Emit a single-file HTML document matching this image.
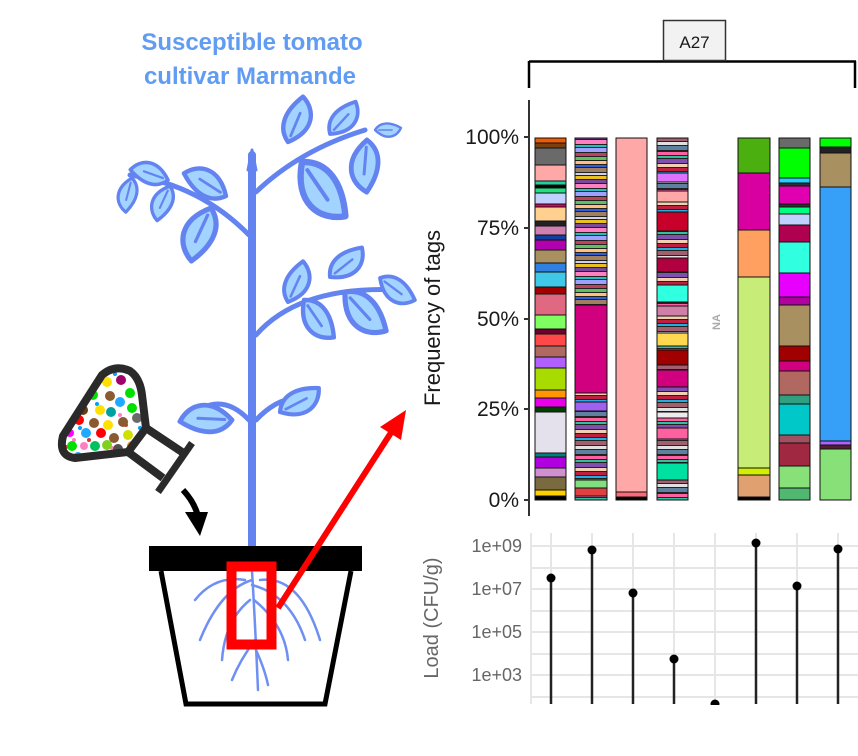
<!DOCTYPE html>
<html><head><meta charset="utf-8"><style>
html,body{margin:0;padding:0;background:#fff;}
svg{display:block;font-family:"Liberation Sans",sans-serif;}
</style></head><body>
<svg width="858" height="756" viewBox="0 0 858 756" xmlns="http://www.w3.org/2000/svg">
<defs>
<pattern id="stA" width="32" height="44" patternUnits="userSpaceOnUse">
<rect width="32" height="44" fill="#222"/>
<rect y="0" width="32" height="3" fill="#e8c020"/><rect y="4" width="32" height="3" fill="#7a4a9a"/><rect y="8" width="32" height="4" fill="#ff80c0"/><rect y="13" width="32" height="2" fill="#20c0c0"/><rect y="16" width="32" height="4" fill="#a0a0ff"/><rect y="21" width="32" height="3" fill="#c04060"/><rect y="25" width="32" height="3" fill="#60c060"/><rect y="29" width="32" height="3" fill="#ffc080"/><rect y="33" width="32" height="2" fill="#3060e0"/><rect y="36" width="32" height="4" fill="#a08060"/><rect y="41" width="32" height="2" fill="#d0d0f0"/>
</pattern>
<pattern id="stB" width="32" height="38" patternUnits="userSpaceOnUse">
<rect width="32" height="38" fill="#222"/>
<rect y="0" width="32" height="3" fill="#ff60a0"/><rect y="4" width="32" height="2" fill="#30c0a0"/><rect y="7" width="32" height="4" fill="#8050b0"/><rect y="12" width="32" height="3" fill="#f0d0b0"/><rect y="16" width="32" height="3" fill="#c02040"/><rect y="20" width="32" height="2" fill="#20b0e0"/><rect y="23" width="32" height="4" fill="#a06070"/><rect y="28" width="32" height="3" fill="#e0e0e0"/><rect y="32" width="32" height="4" fill="#6080a0"/>
</pattern>
<clipPath id="bulbc"><path d="M75,458 Q58,456 63,436 L102,375 Q115,364 130,371 Q140,378 142,395 L146,428 L128,452 Z"/></clipPath>
<g id="leaf"><path d="M0,0 C6,-15 22,-18 42,-11 C38,5 22,15 0,0 Z" fill="#a3d3ff" stroke="#6384f0" stroke-width="4" stroke-linejoin="round"/><path d="M6,-1 L28,-5" stroke="#6384f0" stroke-width="2.5" fill="none" stroke-linecap="round"/></g>
</defs>

<!-- Title -->
<text x="252" y="50" text-anchor="middle" font-size="24" font-weight="bold" fill="#619cf3">Susceptible tomato</text>
<text x="250" y="84" text-anchor="middle" font-size="24" font-weight="bold" fill="#619cf3">cultivar Marmande</text>

<!-- Plant -->
<g stroke="#6384f0" stroke-linecap="round" stroke-linejoin="round" fill="none">
<path d="M252,155 L252,565" stroke-width="8"/>
<path d="M252,150 L248,170 L256,170 Z" fill="#6384f0" stroke-width="3"/>
<path d="M249,235 Q200,185 130,175" stroke-width="5"/>
<path d="M256,192 Q300,150 365,130" stroke-width="5"/>
<path d="M256,335 Q300,285 400,290" stroke-width="5"/>
<path d="M249,420 Q230,400 210,405" stroke-width="5"/>
<path d="M256,420 Q275,400 295,398" stroke-width="5"/>
</g>
<use href="#leaf" transform="translate(132,178) rotate(115) scale(0.8)"/>
<use href="#leaf" transform="translate(168,180) rotate(-150) scale(0.9)"/>
<use href="#leaf" transform="translate(226,196) rotate(-137) scale(1.1)"/>
<use href="#leaf" transform="translate(170,186) rotate(125) scale(0.85)"/>
<use href="#leaf" transform="translate(211,208) rotate(125) scale(1.3)"/>
<use href="#leaf" transform="translate(288,142) rotate(-57) scale(1.1)"/>
<use href="#leaf" transform="translate(330,134) rotate(-37) scale(0.95)"/>
<use href="#leaf" transform="translate(375,130) rotate(10) scale(0.6)"/>
<use href="#leaf" transform="translate(367,140) rotate(105) scale(1.2)"/>
<use href="#leaf" transform="translate(302,162) rotate(66) scale(1.6)"/>
<use href="#leaf" transform="translate(288,302) rotate(-55) scale(1.0)"/>
<use href="#leaf" transform="translate(330,277) rotate(-28) scale(1.0)"/>
<use href="#leaf" transform="translate(380,278) rotate(47) scale(0.95)"/>
<use href="#leaf" transform="translate(345,292) rotate(58) scale(1.3)"/>
<use href="#leaf" transform="translate(304,300) rotate(66) scale(1.1)"/>
<use href="#leaf" transform="translate(232,420) rotate(193) scale(1.2)"/>
<use href="#leaf" transform="translate(280,412) rotate(-17) scale(1.05)"/>

<!-- Pot -->
<path d="M161,571 L186,704 L325,704 L351,571" fill="none" stroke="#000" stroke-width="5"/>
<rect x="149" y="546" width="213" height="25" fill="#000"/>
<g stroke="#6f8ff2" stroke-width="2.5" fill="none" stroke-linecap="round">
<path d="M252,571 Q255,620 258,690"/>
<path d="M252,580 Q220,590 200,640"/>
<path d="M252,585 Q290,595 305,640"/>
<path d="M250,600 Q225,620 222,660"/>
<path d="M254,600 Q285,625 288,660"/>
<path d="M255,640 Q240,660 232,680"/>
<path d="M256,650 Q265,670 268,685"/>
<path d="M245,580 Q215,575 195,600"/>
<path d="M260,580 Q300,575 320,640"/>
</g>
<rect x="231.5" y="566.5" width="40" height="78" fill="none" stroke="#f00" stroke-width="10"/>
<line x1="278" y1="608" x2="394" y2="428" stroke="#f00" stroke-width="6"/>
<path d="M406,410 L380,427 L401,440 Z" fill="#f00"/>

<!-- Bulb -->
<g clip-path="url(#bulbc)">
<rect x="55" y="360" width="100" height="100" fill="#fff"/>
<g fill="#e03030"><circle cx="100" cy="372" r="2"/><circle cx="126" cy="425" r="2"/><circle cx="89" cy="440" r="2"/><circle cx="66" cy="447" r="2"/><circle cx="116" cy="455" r="2"/></g>
<g fill="#00a0ff"><circle cx="115" cy="374" r="2"/><circle cx="97" cy="404" r="2"/><circle cx="140" cy="428" r="2"/><circle cx="80" cy="428" r="2"/></g>
<g fill="#ff80c0"><circle cx="128" cy="372" r="2"/><circle cx="120" cy="415" r="2"/><circle cx="74" cy="440" r="2"/><circle cx="112" cy="448" r="2"/></g>
<circle cx="107" cy="382" r="5" fill="#ffe000"/><circle cx="121" cy="380" r="5" fill="#a0006a"/>
<circle cx="93" cy="395" r="5" fill="#00e000"/><circle cx="110" cy="396" r="5" fill="#8a5a30"/><circle cx="130" cy="393" r="5" fill="#00e000"/>
<circle cx="120" cy="402" r="5" fill="#20aaff"/><circle cx="83" cy="410" r="5" fill="#6a3a10"/><circle cx="100" cy="410" r="5" fill="#ffe000"/><circle cx="111" cy="412" r="5" fill="#00a0a0"/><circle cx="132" cy="408" r="5" fill="#00e000"/>
<circle cx="79" cy="420" r="5" fill="#ff0000"/><circle cx="94" cy="423" r="5" fill="#8a5a30"/><circle cx="108" cy="425" r="5" fill="#ffe000"/><circle cx="123" cy="422" r="5" fill="#8a5a30"/><circle cx="137" cy="418" r="5" fill="#6a6a6a"/>
<circle cx="70" cy="433" r="4" fill="#ff00ff"/><circle cx="86" cy="433" r="5" fill="#20aaff"/><circle cx="101" cy="433" r="5" fill="#ff0000"/><circle cx="114" cy="438" r="5" fill="#8a5a30"/><circle cx="128" cy="435" r="5" fill="#d0e000"/>
<circle cx="72" cy="446" r="5" fill="#00e000"/><circle cx="84" cy="446" r="4" fill="#ff80c0"/><circle cx="95" cy="446" r="5" fill="#00c060"/><circle cx="107" cy="445" r="5" fill="#80d020"/><circle cx="118" cy="449" r="5" fill="#505050"/><circle cx="132" cy="446" r="5" fill="#ff8800"/>
<circle cx="78" cy="456" r="4" fill="#20aaff"/><circle cx="102" cy="456" r="4" fill="#ff80c0"/>
</g>
<path d="M75,458 Q58,456 63,436 L102,375 Q115,364 130,371 Q140,378 142,395 L146,428 L128,452 Z" fill="none" stroke="#2a2a2a" stroke-width="8" stroke-linejoin="round"/>
<path d="M146,428 L182,452 M128,452 L163,478" stroke="#2a2a2a" stroke-width="8"/>
<path d="M192,443 L158,492" stroke="#2a2a2a" stroke-width="7"/>
<path d="M183,490 Q197,505 199,522" fill="none" stroke="#000" stroke-width="6"/>
<path d="M185,512 L208,512 L200,536 Z" fill="#000"/>

<!-- Facet label -->
<line x1="529" y1="61.5" x2="856" y2="61.5" stroke="#000" stroke-width="2.5"/>
<line x1="529" y1="61" x2="529" y2="88" stroke="#000" stroke-width="2.5"/>
<line x1="855" y1="61" x2="855" y2="88" stroke="#000" stroke-width="2.5"/>
<rect x="663.5" y="20.5" width="62" height="40" fill="#f2f2f2" stroke="#333" stroke-width="1.5"/>
<text x="694.5" y="48" text-anchor="middle" font-size="17" fill="#1a1a1a">A27</text>

<!-- Bar chart axis -->
<line x1="529" y1="100" x2="529" y2="516" stroke="#333" stroke-width="2"/>
<g stroke="#333" stroke-width="2">
<line x1="524" y1="137" x2="529" y2="137"/><line x1="524" y1="228" x2="529" y2="228"/><line x1="524" y1="319" x2="529" y2="319"/><line x1="524" y1="409" x2="529" y2="409"/><line x1="524" y1="500" x2="529" y2="500"/>
</g>
<g font-size="21" fill="#1a1a1a" text-anchor="end">
<text x="519" y="144">100%</text><text x="519" y="235">75%</text><text x="519" y="326">50%</text><text x="519" y="416">25%</text><text x="519" y="507">0%</text>
</g>
<text transform="translate(440,318) rotate(-90)" text-anchor="middle" font-size="22" fill="#1a1a1a">Frequency of tags</text>
<text transform="translate(720,322) rotate(-90)" text-anchor="middle" font-size="11" font-weight="bold" fill="#aaa">NA</text>

<g stroke="#111" stroke-width="1">
<rect x="535" y="138" width="31" height="5" fill="#f05a00"/><rect x="535" y="143" width="31" height="5" fill="#7a4010"/><rect x="535" y="148" width="31" height="17" fill="#6a6a6a"/><rect x="535" y="165" width="31" height="16" fill="#ffa8a8"/><rect x="535" y="181" width="31" height="4" fill="#20d0a0"/><rect x="535" y="185" width="31" height="3" fill="#000"/><rect x="535" y="188" width="31" height="5" fill="#20e080"/><rect x="535" y="193" width="31" height="11" fill="#c0d0ff"/><rect x="535" y="204" width="31" height="3" fill="#e00060"/><rect x="535" y="207" width="31" height="14" fill="#ffd090"/><rect x="535" y="221" width="31" height="5" fill="#222"/><rect x="535" y="226" width="31" height="9" fill="#d080b0"/><rect x="535" y="235" width="31" height="5" fill="#1040a0"/><rect x="535" y="240" width="31" height="10" fill="#b000b0"/><rect x="535" y="250" width="31" height="13" fill="#a89060"/><rect x="535" y="263" width="31" height="9" fill="#3080e0"/><rect x="535" y="272" width="31" height="15" fill="#40c8e8"/><rect x="535" y="287" width="31" height="7" fill="#a00000"/><rect x="535" y="294" width="31" height="21" fill="#e06880"/><rect x="535" y="315" width="31" height="14" fill="#80ff60"/><rect x="535" y="329" width="31" height="5" fill="#700030"/><rect x="535" y="334" width="31" height="12" fill="#ff4848"/><rect x="535" y="346" width="31" height="11" fill="#b06860"/><rect x="535" y="357" width="31" height="11" fill="#b060ff"/><rect x="535" y="368" width="31" height="22" fill="#a8dc00"/><rect x="535" y="390" width="31" height="8" fill="#ff9800"/><rect x="535" y="398" width="31" height="9" fill="#e800e8"/><rect x="535" y="407" width="31" height="5" fill="#004000"/><rect x="535" y="412" width="31" height="41" fill="#e4e0ec"/><rect x="535" y="453" width="31" height="4" fill="#008080"/><rect x="535" y="457" width="31" height="11" fill="#b000e0"/><rect x="535" y="468" width="31" height="9" fill="#d090d0"/><rect x="535" y="477" width="31" height="13" fill="#7a6a40"/><rect x="535" y="490" width="31" height="6" fill="#ffd000"/><rect x="535" y="496" width="31" height="4" fill="#000"/>
<rect x="575" y="138" width="32" height="167" fill="url(#stA)"/><rect x="575" y="305" width="32" height="88" fill="#d0007f"/><rect x="575" y="393" width="32" height="107" fill="url(#stB)"/>
<rect x="575" y="402" width="32" height="9" fill="#a060f0"/><rect x="575" y="480" width="32" height="8" fill="#80e080"/><rect x="575" y="488" width="32" height="8" fill="#e04040"/>
<rect x="616" y="138" width="31" height="354" fill="#ffa8a8"/><rect x="616" y="492" width="31" height="5" fill="#ff6878"/><rect x="616" y="497" width="31" height="3" fill="#000"/>
<rect x="657" y="138" width="31" height="362" fill="url(#stB)"/>
<rect x="657" y="173" width="31" height="9" fill="#e070ff"/><rect x="657" y="191" width="31" height="11" fill="#ffa8a8"/><rect x="657" y="212" width="31" height="19" fill="#c8002a"/><rect x="657" y="258" width="31" height="14" fill="#b00040"/><rect x="657" y="285" width="31" height="17" fill="#30ffe0"/><rect x="657" y="306" width="31" height="10" fill="#d080a8"/><rect x="657" y="333" width="31" height="13" fill="#ffd850"/><rect x="657" y="350" width="31" height="15" fill="#a00000"/><rect x="657" y="370" width="31" height="17" fill="#d0007f"/><rect x="657" y="412" width="31" height="6" fill="#ececec"/><rect x="657" y="428" width="31" height="11" fill="#ff60a0"/><rect x="657" y="463" width="31" height="17" fill="#00e0a0"/>
<rect x="738" y="138" width="32" height="35" fill="#4caf10"/><rect x="738" y="173" width="32" height="57" fill="#d800a0"/><rect x="738" y="230" width="32" height="47" fill="#ffa060"/><rect x="738" y="277" width="32" height="191" fill="#c8ec78"/><rect x="738" y="468" width="32" height="7" fill="#d0f000"/><rect x="738" y="475" width="32" height="22" fill="#e0a070"/><rect x="738" y="497" width="32" height="3" fill="#000"/>
<rect x="779" y="138" width="31" height="10" fill="#6a6a6a"/><rect x="779" y="148" width="31" height="30" fill="#00ff00"/><rect x="779" y="178" width="31" height="5" fill="#20d0ff"/><rect x="779" y="183" width="31" height="3" fill="#303030"/><rect x="779" y="186" width="31" height="18" fill="#e000b0"/><rect x="779" y="204" width="31" height="3" fill="#303030"/><rect x="779" y="207" width="31" height="7" fill="#00ff80"/><rect x="779" y="214" width="31" height="11" fill="#c0d0ff"/><rect x="779" y="225" width="31" height="17" fill="#b00050"/><rect x="779" y="242" width="31" height="31" fill="#30ffe0"/><rect x="779" y="273" width="31" height="24" fill="#e800ff"/><rect x="779" y="297" width="31" height="8" fill="#b000a0"/><rect x="779" y="305" width="31" height="41" fill="#a89060"/><rect x="779" y="346" width="31" height="15" fill="#a00000"/><rect x="779" y="361" width="31" height="10" fill="#d0007f"/><rect x="779" y="371" width="31" height="24" fill="#b06860"/><rect x="779" y="395" width="31" height="9" fill="#30a080"/><rect x="779" y="404" width="31" height="31" fill="#00c8c8"/><rect x="779" y="435" width="31" height="8" fill="#a05060"/><rect x="779" y="443" width="31" height="23" fill="#a02840"/><rect x="779" y="466" width="31" height="22" fill="#88e078"/><rect x="779" y="488" width="31" height="12" fill="#50b870"/>
<rect x="820" y="138" width="31" height="9" fill="#00ff00"/><rect x="820" y="147" width="31" height="6" fill="#222"/><rect x="820" y="153" width="31" height="34" fill="#a89060"/><rect x="820" y="187" width="31" height="254" fill="#36a0f8"/><rect x="820" y="441" width="31" height="4" fill="#b060ff"/><rect x="820" y="445" width="31" height="4" fill="#502030"/><rect x="820" y="449" width="31" height="51" fill="#88e078"/>
</g>

<!-- Load chart -->
<g stroke="#e6e6e6" stroke-width="2">
<line x1="531" y1="546" x2="858" y2="546"/><line x1="531" y1="568" x2="858" y2="568"/><line x1="531" y1="589" x2="858" y2="589"/><line x1="531" y1="611" x2="858" y2="611"/><line x1="531" y1="632" x2="858" y2="632"/><line x1="531" y1="654" x2="858" y2="654"/><line x1="531" y1="675" x2="858" y2="675"/><line x1="531" y1="697" x2="858" y2="697"/>
<line x1="551" y1="533" x2="551" y2="704"/><line x1="592" y1="533" x2="592" y2="704"/><line x1="633" y1="533" x2="633" y2="704"/><line x1="674" y1="533" x2="674" y2="704"/><line x1="715" y1="533" x2="715" y2="704"/><line x1="756" y1="533" x2="756" y2="704"/><line x1="797" y1="533" x2="797" y2="704"/><line x1="838" y1="533" x2="838" y2="704"/>
<line x1="531" y1="533" x2="531" y2="704"/>
</g>
<g font-size="18" fill="#666" text-anchor="end">
<text x="522" y="552">1e+09</text><text x="522" y="595">1e+07</text><text x="522" y="638">1e+05</text><text x="522" y="681">1e+03</text>
</g>
<text transform="translate(438,618) rotate(-90)" text-anchor="middle" font-size="20" fill="#666">Load (CFU/g)</text>
<g stroke="#222" stroke-width="2.5">
<line x1="551" y1="578" x2="551" y2="704"/><line x1="592" y1="550" x2="592" y2="704"/><line x1="633" y1="593" x2="633" y2="704"/><line x1="674" y1="659" x2="674" y2="704"/><line x1="756" y1="543" x2="756" y2="704"/><line x1="797" y1="586" x2="797" y2="704"/><line x1="838" y1="549" x2="838" y2="704"/>
</g>
<g fill="#000">
<circle cx="551" cy="578" r="4.5"/><circle cx="592" cy="550" r="4.5"/><circle cx="633" cy="593" r="4.5"/><circle cx="674" cy="659" r="4.5"/><circle cx="715" cy="704" r="4.5"/><circle cx="756" cy="543" r="4.5"/><circle cx="797" cy="586" r="4.5"/><circle cx="838" cy="549" r="4.5"/>
</g>
<rect x="420" y="705" width="438" height="51" fill="#fff"/>
</svg>
</body></html>
